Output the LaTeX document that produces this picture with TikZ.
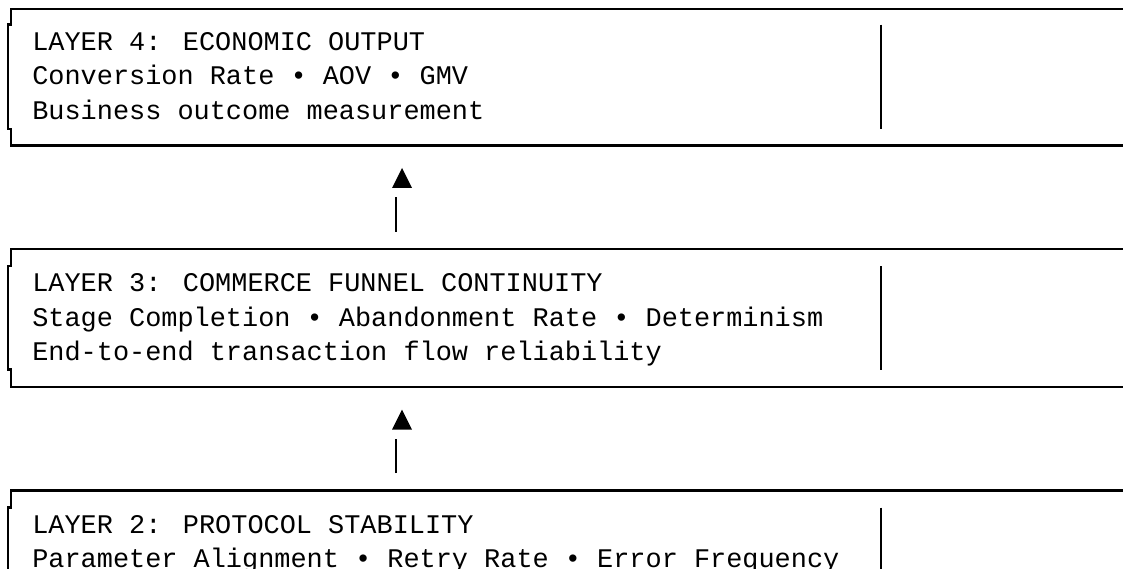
\documentclass[tikz,border=0pt]{standalone}
\usepackage{fontspec}
\newfontfamily\asciimono{Liberation Mono}
\begin{document}
\begin{tikzpicture}[x=1pt,y=-1pt,
  rule/.style={line width=2.4pt, line cap=butt, line join=miter},
  bar/.style={line width=2.3pt, line cap=butt},
  txt/.style={anchor=base west, inner sep=0pt, outer sep=0pt,
    font=\asciimono\fontsize{26.9}{34.5}\selectfont},
  tipfill/.style={fill=black, draw=none}]
\useasboundingbox (0,0) rectangle (1123,569);
\clip (0,0) rectangle (1123,569);

% ---------- Layer 4 box ----------
\draw[rule] (1130,9) -- (11,9) -- (11,24.6) -- (8,24.6) -- (8,129.1)
  -- (11,129.1) -- (11,145.4) -- (1130,145.4);
\draw[rule] (881,24.6) -- (881,129.1);
\node[txt] (l4a) at (32.3,50.1) {LAYER 4: ECONOMIC OUTPUT};
\node[txt] (l4b) at (32.3,84.6) {Conversion Rate • AOV • GMV};
\node[txt] (l4c) at (32.3,119.1) {Business outcome measurement};

% ---------- arrow 3 -> 4 ----------
\coordinate (a1top) at (396,197.1);
\coordinate (a1bot) at (396,231.6);
\fill[tipfill] (392,188) -- (412,188) -- (402,168) -- cycle;
\draw[bar] (a1bot) -- (a1top);

% ---------- Layer 3 box ----------
\draw[rule] (1130,248.9) -- (11,248.9) -- (11,266.1) -- (8,266.1) -- (8,369.6)
  -- (11,369.6) -- (11,386.9) -- (1130,386.9);
\draw[rule] (881,266.1) -- (881,369.6);
\node[txt] (l3a) at (32.3,291.6) {LAYER 3: COMMERCE FUNNEL CONTINUITY};
\node[txt] (l3b) at (32.3,326.1) {Stage Completion • Abandonment Rate • Determinism};
\node[txt] (l3c) at (32.3,360.6) {End-to-end transaction flow reliability};

% ---------- arrow 2 -> 3 ----------
\coordinate (a2top) at (396,438.6);
\coordinate (a2bot) at (396,473.1);
\fill[tipfill] (392,429.6) -- (412,429.6) -- (402,409.6) -- cycle;
\draw[bar] (a2bot) -- (a2top);

% ---------- Layer 2 box ----------
\draw[rule] (1130,490.4) -- (11,490.4) -- (11,507.6) -- (8,507.6) -- (8,580);
\draw[rule] (881,507.6) -- (881,580);
\node[txt] (l2a) at (32.3,533.1) {LAYER 2: PROTOCOL STABILITY};
\node[txt] (l2b) at (32.3,567.6) {Parameter Alignment • Retry Rate • Error Frequency};
\end{tikzpicture}
\end{document}
